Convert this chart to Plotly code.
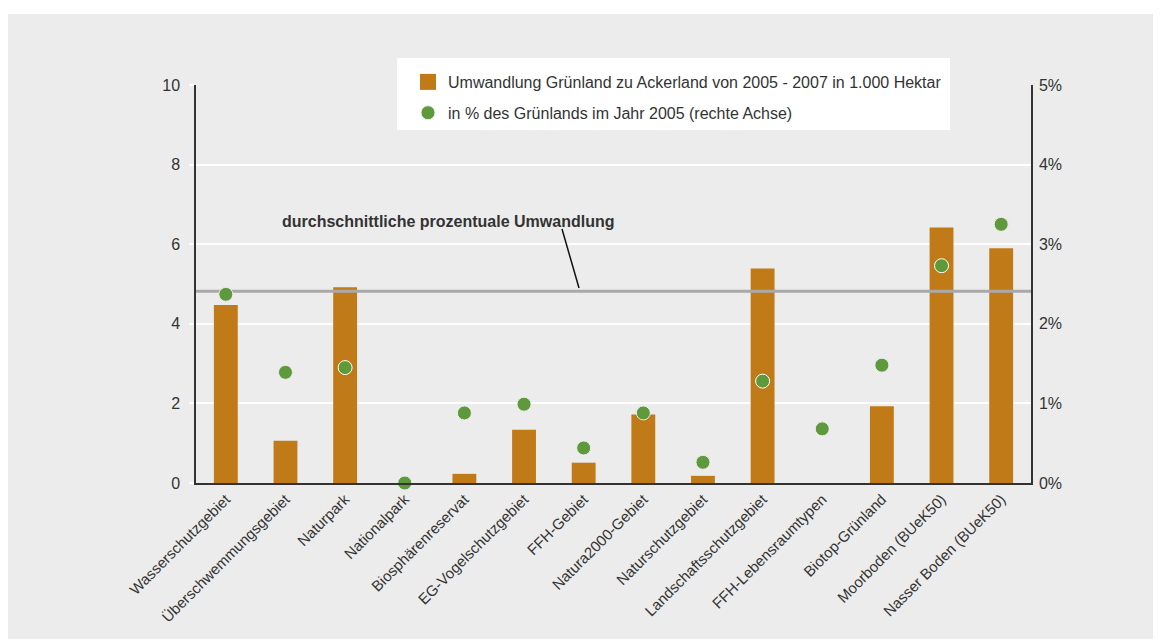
import plotly.graph_objects as go

categories = [
    "Wasserschutzgebiet", "Überschwemmungsgebiet", "Naturpark", "Nationalpark",
    "Biosphärenreservat", "EG-Vogelschutzgebiet", "FFH-Gebiet", "Natura2000-Gebiet",
    "Naturschutzgebiet", "Landschaftsschutzgebiet", "FFH-Lebensraumtypen",
    "Biotop-Grünland", "Moorboden (BUeK50)", "Nasser Boden (BUeK50)",
]
hectare_k = [4.47, 1.06, 4.92, 0.0, 0.23, 1.34, 0.51, 1.72, 0.18, 5.39, 0.0, 1.93, 6.42, 5.90]
percent = [2.37, 1.39, 1.45, 0.0, 0.88, 0.99, 0.44, 0.88, 0.26, 1.28, 0.68, 1.48, 2.73, 3.25]
avg_percent = 2.41

left_ticks = [0, 2, 4, 6, 8, 10]
right_ticks = [0, 1, 2, 3, 4, 5]
right_labels = [f"{v}%" for v in right_ticks]

BG = "#ececec"
BAR = "#c07a18"
GREEN = "#5e9a3b"
TXT = "#333333"
FONT = "Liberation Sans, Arial, Helvetica, sans-serif"

W, H = 1161, 639
L, T, PW, PH = 188, 77, 835, 398
R, B = W - L - PW, H - T - PH


def px(xp):
    return (xp - L) / PW


def py(yp):
    return (T + PH - yp) / PH


idx = list(range(len(categories)))
# white outline only where the dot sits on top of a bar
outline = ["white" if p * 2 < h else BG for p, h in zip(percent, hectare_k)]

fig = go.Figure()
fig.add_trace(go.Bar(
    x=idx, y=hectare_k, width=0.4, marker=dict(color=BAR, line=dict(width=0)),
    yaxis="y", showlegend=False, hoverinfo="y",
))
fig.add_trace(go.Scatter(
    x=[None], y=[None], mode="markers", yaxis="y",
    marker=dict(symbol="square", size=16, color=BAR),
    name="Umwandlung Grünland zu Ackerland von 2005 - 2007 in 1.000 Hektar",
    legendgroup="a",
))
fig.add_trace(go.Scatter(
    x=[-0.5, len(categories) - 0.5], y=[avg_percent, avg_percent], mode="lines",
    yaxis="y2", line=dict(color="#a9a9a9", width=3), showlegend=False, hoverinfo="skip",
))
fig.add_trace(go.Scatter(
    x=idx, y=percent, mode="markers", yaxis="y2", cliponaxis=False,
    marker=dict(size=14, color=GREEN, line=dict(color=outline, width=1)),
    name="in % des Grünlands im Jahr 2005 (rechte Achse)", legendgroup="b",
))

fig.update_layout(
    width=W, height=H,
    margin=dict(l=L, r=R, t=T, b=B),
    paper_bgcolor=BG, plot_bgcolor=BG,
    font=dict(family=FONT, color=TXT, size=16),
    xaxis=dict(
        range=[-0.5, len(categories) - 0.5], tickmode="array", tickvals=idx,
        ticktext=categories, tickangle=-45, tickfont=dict(size=15),
        showgrid=False, zeroline=False, showline=True, linecolor=TXT, linewidth=1.5,
        ticks="",
    ),
    yaxis=dict(
        range=[0, 10], tickvals=left_ticks, gridcolor="white", gridwidth=1.5,
        showline=True, linecolor=TXT, linewidth=1.5, zeroline=False,
        ticks="outside", ticklen=5, tickcolor="white", tickwidth=1.5,
        tickfont=dict(size=16), ticklabelstandoff=6,
    ),
    yaxis2=dict(
        range=[0, 5], tickmode="array", tickvals=right_ticks, ticktext=right_labels,
        overlaying="y", side="right",
        showgrid=False, zeroline=False, showline=True, linecolor=TXT, linewidth=1.5,
        ticks="", tickfont=dict(size=16), ticklabelstandoff=3,
    ),
    legend=dict(
        x=px(400), y=py(57), xanchor="left", yanchor="top",
        bgcolor="rgba(0,0,0,0)", borderwidth=0, font=dict(size=16, color=TXT),
        tracegroupgap=7, itemsizing="trace",
    ),
    showlegend=True,
    shapes=[
        # thin white strip along the top edge
        dict(type="rect", xref="paper", yref="paper", x0=px(0), x1=px(W + 1),
             y0=py(6), y1=py(-1), fillcolor="white", line=dict(width=0)),
        # legend box
        dict(type="rect", xref="paper", yref="paper", x0=px(389), x1=px(942),
             y0=py(122), y1=py(50), fillcolor="white", line=dict(width=0), layer="above"),
        # annotation pointer
        dict(type="line", xref="paper", yref="paper",
             x0=px(554), y0=py(221), x1=px(571), y1=py(280),
             line=dict(color="#111111", width=1.5)),
    ],
    annotations=[
        dict(text="<b>durchschnittliche prozentuale Umwandlung</b>", xref="paper", yref="paper",
             x=px(439.5), y=py(213.5), xanchor="center", yanchor="middle",
             showarrow=False, font=dict(size=16, color=TXT)),
    ],
)

fig.write_html("out.html")
